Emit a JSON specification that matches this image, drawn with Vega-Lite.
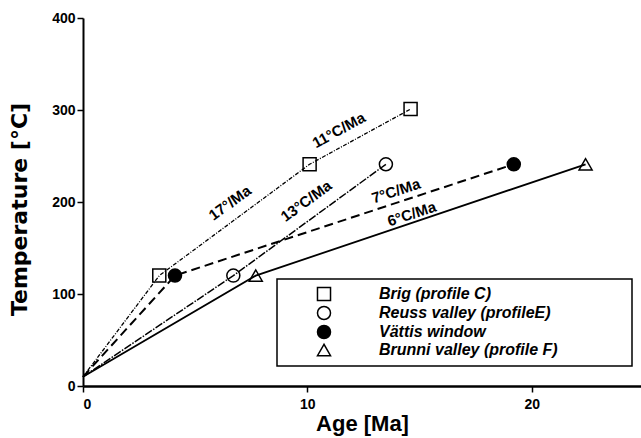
{
  "$schema": "https://vega.github.io/schema/vega-lite/v6.json",
  "width": 558,
  "height": 368,
  "autosize": {"type": "none"},
  "padding": {"left": 83, "top": 18, "right": 0, "bottom": 52},
  "background": "white",
  "datasets": {
    "profiles": [
      {"series": "Brig (profile C)", "age": 0, "temp": 10},
      {"series": "Brig (profile C)", "age": 3.4, "temp": 120},
      {"series": "Brig (profile C)", "age": 10.1, "temp": 241},
      {"series": "Brig (profile C)", "age": 14.6, "temp": 301},
      {"series": "Reuss valley (profileE)", "age": 0, "temp": 10},
      {"series": "Reuss valley (profileE)", "age": 6.7, "temp": 120},
      {"series": "Reuss valley (profileE)", "age": 13.5, "temp": 241},
      {"series": "Vättis window", "age": 0, "temp": 10},
      {"series": "Vättis window", "age": 4.1, "temp": 120},
      {"series": "Vättis window", "age": 19.2, "temp": 241},
      {"series": "Brunni valley (profile F)", "age": 0, "temp": 10},
      {"series": "Brunni valley (profile F)", "age": 7.7, "temp": 120},
      {"series": "Brunni valley (profile F)", "age": 22.4, "temp": 241}
    ],
    "rates": [
      {"label": "17°/Ma", "age": 6.55, "temp": 199},
      {"label": "11°C/Ma", "age": 11.4, "temp": 278},
      {"label": "13°C/Ma", "age": 9.95, "temp": 201},
      {"label": "7°C/Ma", "age": 13.95, "temp": 212},
      {"label": "6°C/Ma", "age": 14.65, "temp": 187}
    ]
  },
  "layer": [
    {
      "mark": {"type": "rule", "color": "black", "strokeWidth": 1.5},
      "encoding": {"y": {"datum": 400}}
    },
    {
      "data": {"name": "profiles"},
      "transform": [{"filter": {"field": "series", "equal": "Brig (profile C)"}}],
      "mark": {"type": "line", "color": "black", "strokeWidth": 1.3, "strokeDash": [4, 1.5, 1, 1.5]},
      "encoding": {
        "x": {"field": "age", "type": "quantitative", "scale": {"domain": [0, 24.87], "nice": false, "zero": false},
              "axis": {"values": [0, 10, 20], "title": "Age [Ma]", "titleFontSize": 22, "labelPadding": 5, "titlePadding": 2, "domainWidth": 2.5, "format": "d"}},
        "y": {"field": "temp", "type": "quantitative", "scale": {"domain": [0, 400], "nice": false},
              "axis": {"values": [0, 100, 200, 300, 400], "title": "Temperature [°C]", "titleFont": "DejaVu Sans", "titleFontSize": 22, "labelPadding": 2, "titlePadding": 20, "titleY": 191, "format": "d"}}
      }
    },
    {
      "data": {"name": "profiles"},
      "transform": [{"filter": {"field": "series", "equal": "Reuss valley (profileE)"}}],
      "mark": {"type": "line", "color": "black", "strokeWidth": 1.5, "strokeDash": [8, 1.5, 1.5, 1.5]},
      "encoding": {"x": {"field": "age", "type": "quantitative"}, "y": {"field": "temp", "type": "quantitative"}}
    },
    {
      "data": {"name": "profiles"},
      "transform": [{"filter": {"field": "series", "equal": "Vättis window"}}],
      "mark": {"type": "line", "color": "black", "strokeWidth": 2, "strokeDash": [9, 5]},
      "encoding": {"x": {"field": "age", "type": "quantitative"}, "y": {"field": "temp", "type": "quantitative"}}
    },
    {
      "data": {"name": "profiles"},
      "transform": [{"filter": {"field": "series", "equal": "Brunni valley (profile F)"}}],
      "mark": {"type": "line", "color": "black", "strokeWidth": 1.8},
      "encoding": {"x": {"field": "age", "type": "quantitative"}, "y": {"field": "temp", "type": "quantitative"}}
    },
    {
      "data": {"name": "profiles"},
      "transform": [{"filter": "datum.age > 0"}],
      "mark": {"type": "point", "strokeWidth": 1.5, "opacity": 1, "size": 170},
      "encoding": {
        "x": {"field": "age", "type": "quantitative"},
        "y": {"field": "temp", "type": "quantitative"},
        "shape": {"field": "series", "type": "nominal",
                  "scale": {"domain": ["Brig (profile C)", "Reuss valley (profileE)", "Vättis window", "Brunni valley (profile F)"],
                            "range": ["square", "circle", "circle", "triangle-up"]},
                  "legend": {"title": null, "orient": "none", "legendX": 194, "legendY": 261, "labelLimit": 500,
                             "labelExpr": "datum.label + '\u00a0\u00a0\u00a0\u00a0\u00a0\u00a0\u00a0\u00a0\u00a0\u00a0\u00a0\u00a0\u00a0\u00a0\u00a0\u200b'"}},
        "fill": {"field": "series", "type": "nominal",
                 "scale": {"domain": ["Brig (profile C)", "Reuss valley (profileE)", "Vättis window", "Brunni valley (profile F)"],
                           "range": ["transparent", "transparent", "black", "transparent"]},
                 "legend": {"title": null, "orient": "none", "legendX": 194, "legendY": 261, "labelLimit": 500,
                            "labelExpr": "datum.label + '\u00a0\u00a0\u00a0\u00a0\u00a0\u00a0\u00a0\u00a0\u00a0\u00a0\u00a0\u00a0\u00a0\u00a0\u00a0\u200b'"}},
        "stroke": {"field": "series", "type": "nominal",
                   "scale": {"domain": ["Brig (profile C)", "Reuss valley (profileE)", "Vättis window", "Brunni valley (profile F)"],
                             "range": ["black", "black", "black", "black"]},
                   "legend": {"title": null, "orient": "none", "legendX": 194, "legendY": 261, "labelLimit": 500,
                              "labelExpr": "datum.label + '\u00a0\u00a0\u00a0\u00a0\u00a0\u00a0\u00a0\u00a0\u00a0\u00a0\u00a0\u00a0\u00a0\u00a0\u00a0\u200b'"}}
      }
    },
    {
      "data": {"name": "rates"},
      "transform": [{"filter": {"field": "label", "oneOf": ["17°/Ma", "13°C/Ma"]}}],
      "mark": {"type": "text", "angle": 324, "font": "Liberation Sans", "fontWeight": "bold", "fontSize": 15, "color": "black"},
      "encoding": {"x": {"field": "age", "type": "quantitative"}, "y": {"field": "temp", "type": "quantitative"}, "text": {"field": "label"}}
    },
    {
      "data": {"name": "rates"},
      "transform": [{"filter": {"field": "label", "oneOf": ["11°C/Ma"]}}],
      "mark": {"type": "text", "angle": 331, "font": "Liberation Sans", "fontWeight": "bold", "fontSize": 15, "color": "black"},
      "encoding": {"x": {"field": "age", "type": "quantitative"}, "y": {"field": "temp", "type": "quantitative"}, "text": {"field": "label"}}
    },
    {
      "data": {"name": "rates"},
      "transform": [{"filter": {"field": "label", "oneOf": ["7°C/Ma", "6°C/Ma"]}}],
      "mark": {"type": "text", "angle": 342, "font": "Liberation Sans", "fontWeight": "bold", "fontSize": 15, "color": "black"},
      "encoding": {"x": {"field": "age", "type": "quantitative"}, "y": {"field": "temp", "type": "quantitative"}, "text": {"field": "label"}}
    }
  ],
  "config": {
    "view": {"stroke": null},
    "font": "Liberation Sans",
    "axis": {
      "grid": false, "domainColor": "black", "domainWidth": 2, "tickColor": "black", "tickWidth": 1.5, "tickSize": 6,
      "labelColor": "black", "labelFont": "Liberation Sans", "labelFontWeight": "bold", "labelFontSize": 14,
      "titleColor": "black", "titleFont": "Liberation Sans", "titleFontWeight": "bold"
    },
    "legend": {
      "strokeColor": "black", "strokeWidth": 1.5, "fillColor": "white", "padding": 7,
      "labelFont": "Liberation Sans", "labelFontSize": 16, "labelFontStyle": "italic", "labelFontWeight": "bold", "labelColor": "black",
      "labelOffset": 47, "symbolOffset": 32, "symbolSize": 170, "symbolStrokeWidth": 1.5, "rowPadding": -1
    }
  }
}
